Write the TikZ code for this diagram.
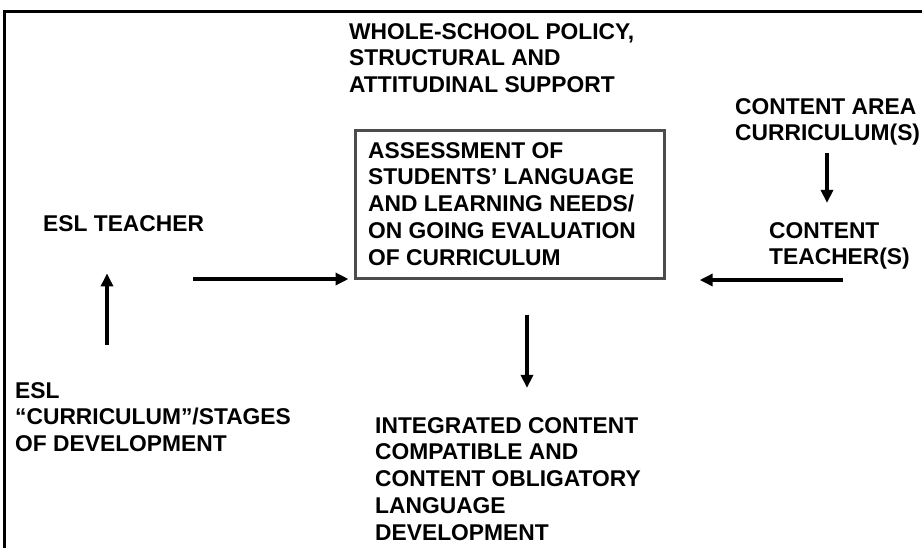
\documentclass[tikz,border=0pt]{standalone}
\usepackage{fontspec}
\setmainfont{Liberation Sans}
\usetikzlibrary{arrows.meta}
\newcommand{\mlines}[1]{\vtop{\baselineskip=26.8pt\lineskiplimit=-100pt\lineskip=0pt\halign{##\hfil\cr#1\crcr}}}
\begin{document}
\begin{tikzpicture}[x=1pt,y=-1pt,
  lbl/.style={anchor=base west, inner sep=0pt, font=\fontsize{22.8}{27}\selectfont\bfseries},
  arr/.style={line width=3.8pt, -{Triangle[length=13pt,width=12pt]}},
  boxstyle/.style={draw=black!70, line width=3.2pt, inner sep=0pt, anchor=north west,
                   minimum width=309pt, minimum height=148pt},
  frame/.style={line width=3pt}]
\useasboundingbox (0,0) rectangle (922,547);
% outer frame
\draw[frame] (4.5,549) -- (4.5,11) -- (924,11);
% texts
\node[lbl] (whole) at (349,39) {\mlines{WHOLE-SCHOOL POLICY,\cr STRUCTURAL AND\cr ATTITUDINAL SUPPORT}};
\node[boxstyle] (box) at (354,129) {};
\node[lbl] (assess) at (368,158) {\mlines{ASSESSMENT OF\cr STUDENTS’ LANGUAGE\cr AND LEARNING NEEDS/\cr ON GOING EVALUATION\cr OF CURRICULUM}};
\node[lbl] (eslt) at (43,231) {ESL TEACHER};
\node[lbl] (eslc) at (15,398) {\mlines{ESL\cr “CURRICULUM”/STAGES\cr OF DEVELOPMENT}};
\node[lbl] (carea) at (735,114) {\mlines{CONTENT AREA\cr CURRICULUM(S)}};
\node[lbl] (ct) at (769,238) {\mlines{CONTENT\cr TEACHER(S)}};
\node[lbl] (integ) at (375,433) {\mlines{INTEGRATED CONTENT\cr COMPATIBLE AND\cr CONTENT OBLIGATORY\cr LANGUAGE\cr DEVELOPMENT}};
% helper coordinates
\coordinate (x1) at (107,300);
\coordinate (t2) at (193,279);
\coordinate (x3) at (527,300);
\coordinate (x4) at (827,100);
\coordinate (t5) at (843,280);
% connectors
\draw[arr, shorten <=37pt, shorten >=42pt] (eslc.north -| x1) -- (eslt.south -| x1);
\draw[arr, shorten >=5.5pt] (t2) -- (t2 -| box.west);
\draw[arr, shorten <=34.5pt, shorten >=29pt] (box.south -| x3) -- (integ.north -| x3);
\draw[arr, shorten <=7pt, shorten >=19pt] (carea.south -| x4) -- (ct.north -| x4);
\draw[arr, shorten >=33.5pt] (t5) -- (t5 -| box.east);
\end{tikzpicture}
\end{document}
